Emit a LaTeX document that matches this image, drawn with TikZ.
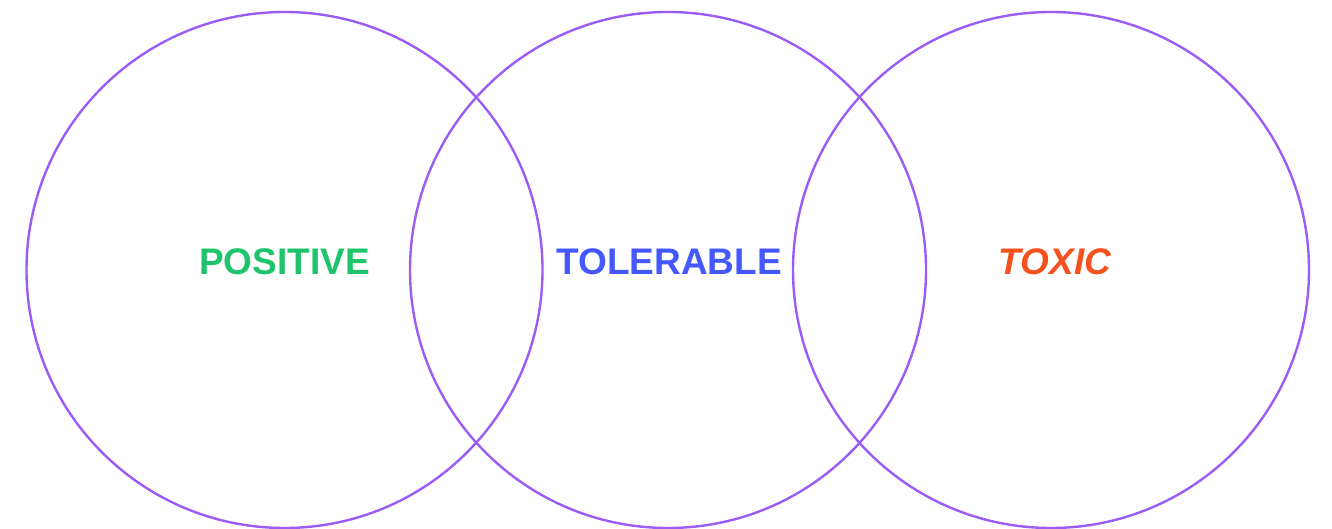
\documentclass[tikz,border=0pt]{standalone}
\usepackage{fontspec}
\setmainfont{Liberation Sans}
\usetikzlibrary{positioning}
\definecolor{ringpurple}{HTML}{9B5CF6}
\definecolor{posgreen}{HTML}{1EC46B}
\definecolor{tolblue}{HTML}{4458FF}
\definecolor{toxred}{HTML}{F4511E}
\tikzset{
    ring/.style={
        circle,
        draw=ringpurple,
        line width=2.4pt,
        minimum size=516pt,
        inner sep=0pt
    },
    tag/.style={
        font=\fontsize{37}{37}\selectfont\bfseries,
        inner sep=0pt
    }
}

\begin{document}
\begin{tikzpicture}[x=1pt,y=-1pt]

\useasboundingbox (0,0) rectangle (1332,529);

\node (left) [ring] at (284.5,270) {};
\node (middle) [ring] at (668,270) {};
\node (right) [ring] at (1051,270) {};

\node (positive) [tag, text=posgreen] at (284.5,262) {POSITIVE};
\node (tolerable) [tag, text=tolblue] at (669,262) {TOLERABLE};
\node (toxic) [tag, text=toxred, font=\fontsize{37}{37}\selectfont\bfseries\itshape] at (1055,262) {TOXIC};

\end{tikzpicture}
\end{document}
